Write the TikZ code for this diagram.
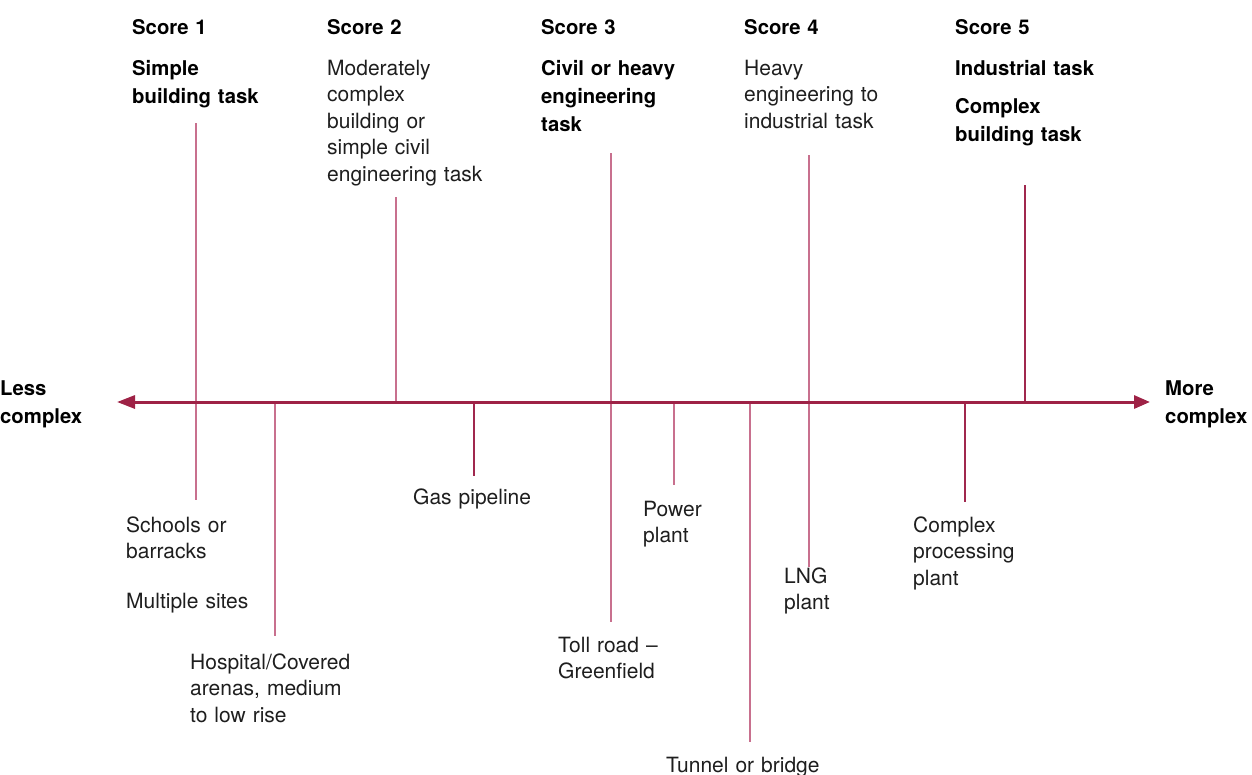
\documentclass[tikz,border=0pt]{standalone}
\usepackage{fontspec}
\setmainfont{TeX Gyre Heros}
\usetikzlibrary{arrows.meta}
\definecolor{axiscol}{RGB}{158,34,70}
\definecolor{pinkline}{RGB}{200,112,142}
\definecolor{darkline}{RGB}{160,40,78}
\definecolor{txt}{RGB}{30,30,30}
\tikzset{
  lbl/.style={anchor=base west, inner sep=0pt, text width=220pt, align=left,
    text=txt, font=\fontsize{21}{26.5}\selectfont},
  head/.style={anchor=base west, inner sep=0pt, text width=220pt, align=left,
    text=black, font=\fontsize{20.3}{28}\selectfont\bfseries},
  tickp/.style={draw=pinkline, line width=1.4pt},
  tickd/.style={draw=darkline, line width=1.2pt},
  axis/.style={draw=axiscol, line width=3pt,
    {Triangle[length=18pt,width=13pt]}-{Triangle[length=16pt,width=13pt]}}
}
\begin{document}
\begin{tikzpicture}[x=1pt,y=-1pt]
\useasboundingbox (0,0) rectangle (1252,774);
% headings
\node[head] (sc1) at (132,34) {Score 1};
\node[head] (sc2) at (327,34) {Score 2};
\node[head] (sc3) at (541,34) {Score 3};
\node[head] (sc4) at (744,34) {Score 4};
\node[head] (sc5) at (955,34) {Score 5};
\node[head] (t1) at (132,75) {Simple\\building task};
\node[lbl] (t2) at (327,75) {Moderately\\complex\\building or\\simple civil\\engineering task};
\node[head] (t3) at (541,75) {Civil or heavy\\engineering\\task};
\node[lbl] (t4) at (744,75) {Heavy\\engineering to\\industrial task};
\node[head] (t5a) at (955,75) {Industrial task};
\node[head] (t5b) at (955,113) {Complex\\building task};
\node[head] (less) at (0,395) {Less\\complex};
\node[head] (more) at (1165,395) {More\\complex};
% bottom labels
\node[lbl] (schools) at (126,532) {Schools or\\barracks};
\node[lbl] (multi) at (126,608) {Multiple sites};
\node[lbl] (hosp) at (190,669) {Hospital/Covered\\arenas, medium\\to low rise};
\node[lbl] (gas) at (413,504) {Gas pipeline};
\node[lbl] (power) at (643,516) {Power\\plant};
\node[lbl] (toll) at (558,652) {Toll road –\\Greenfield};
\node[lbl] (lng) at (784,583) {LNG\\plant};
\node[lbl] (tunnel) at (666,772) {Tunnel or bridge};
\node[lbl] (cpp) at (913,532) {Complex\\processing\\plant};
% coordinates
\coordinate (axL) at (117,402);
\coordinate (axR) at (1150,402);
\coordinate (s1t) at (196,123); \coordinate (s1b) at (196,500);
\coordinate (hoa) at (275,402); \coordinate (hob) at (275,636);
\coordinate (s2t) at (396,197); \coordinate (s2a) at (396,402);
\coordinate (gaa) at (474,402); \coordinate (gab) at (474,476);
\coordinate (s3t) at (611,153); \coordinate (s3b) at (611,622);
\coordinate (poa) at (674,402); \coordinate (pob) at (674,485);
\coordinate (tua) at (750,402); \coordinate (tub) at (750,742);
\coordinate (s4t) at (809,155); \coordinate (s4b) at (809,567);
\coordinate (cpa) at (965,402); \coordinate (cpb) at (965,502);
\coordinate (s5t) at (1025,185); \coordinate (s5a) at (1025,402);
% ticks
\draw[tickp] (s1t) -- (s1b);
\draw[tickp] (hoa) -- (hob);
\draw[tickp] (s2t) -- (s2a);
\draw[tickd] (gaa) -- (gab);
\draw[tickp] (s3t) -- (s3b);
\draw[tickp] (poa) -- (pob);
\draw[tickp] (tua) -- (tub);
\draw[tickp] (s4t) -- (s4b);
\draw[tickd] (cpa) -- (cpb);
\draw[tickd] (s5t) -- (s5a);
% axis
\draw[axis] (axL) -- (axR);
\end{tikzpicture}
\end{document}
